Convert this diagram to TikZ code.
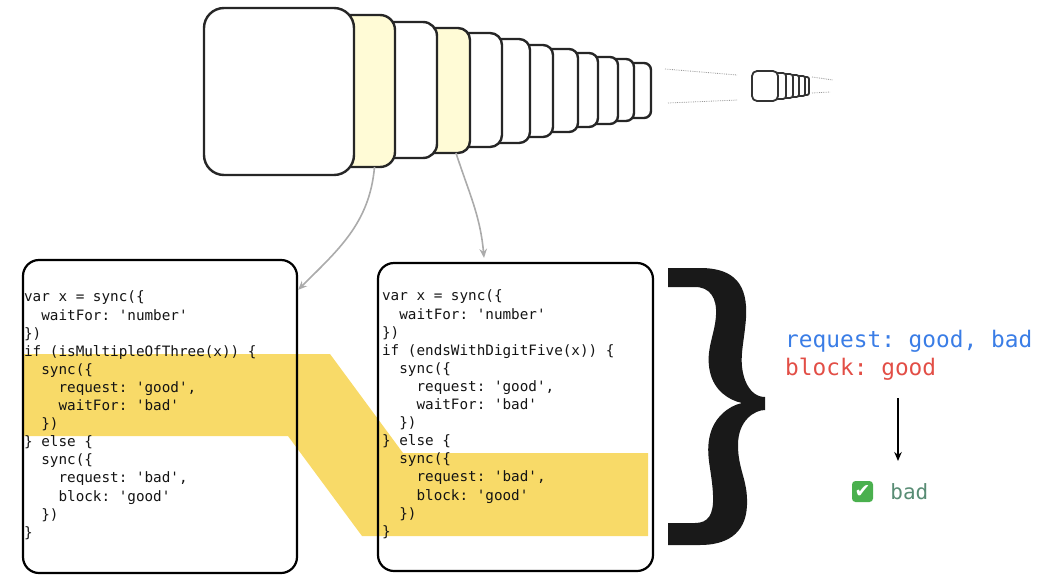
\documentclass[tikz,border=0pt]{standalone}
\usepackage{fontspec}
\setmainfont{DejaVu Sans}
\setmonofont{DejaVu Sans Mono}
\usepackage{tikz}
\usetikzlibrary{arrows.meta,positioning}

\definecolor{paleyellow}{RGB}{255,251,214}
\definecolor{hilite}{RGB}{248,218,104}
\definecolor{reqblue}{RGB}{58,125,230}
\definecolor{blkred}{RGB}{226,78,70}
\definecolor{okgreen}{RGB}{88,140,116}
\definecolor{checkgreen}{RGB}{74,176,78}
\newcommand\codeind{\phantom{xx}}

\begin{document}
\begin{tikzpicture}[x=1pt,y=-1pt,>={Stealth[length=9pt,width=7.5pt]},line join=round]
  \tikzstyle{stackbox}=[rectangle,draw=black!85,line width=2.4pt,inner sep=0pt,outer sep=0pt]
  \tikzstyle{farbox}=[rectangle,draw=black!80,line width=1.8pt,inner sep=0pt,outer sep=0pt]
  \tikzstyle{codebox}=[rectangle,draw=black,line width=2.2pt,rounded corners=16pt,inner sep=0pt]
  \tikzstyle{code}=[inner sep=0pt,align=left,text=black!92,
        font=\ttfamily\fontsize{14.3}{18.1}\selectfont]
  \tikzstyle{result}=[inner sep=0pt,anchor=base west,font=\ttfamily\fontsize{22.8}{28}\selectfont]
  \tikzstyle{feed}=[->,draw=black!33,line width=1.6pt]
  \tikzstyle{perspective}=[draw=black!40,densely dotted,line width=0.8pt]
  \useasboundingbox (0,0) rectangle (1042,584);

  % highlighted path through both programs
  \fill[hilite] (23,354) -- (330,354) -- (403,453) -- (648,453) -- (648,536)
    -- (362,536) -- (288,436) -- (23,436) -- cycle;

  % stack of sync points, back to front
  \foreach \n/\xa/\xb/\ya/\yb/\fc/\rad in {12/622/651/63/118/white/7,
      11/606/634/59/121/white/8, 10/586/618/57/124/white/8, 9/564/598/53/127/white/9,
      8/539/578/49/132/white/9, 7/514/553/45/137/white/10, 6/484/530/39/143/white/11,
      5/450/502/33/147/white/12, 4/417/470/28/153/paleyellow/12, 3/375/437/22/158/white/14,
      2/334/395/15/167/paleyellow/15, 1/204/354/8/175/white/20}
    \node[stackbox,fill=\fc,rounded corners=\rad pt,minimum width=\xb-\xa,
      minimum height=\yb-\ya] (s\n) at ({(\xa+\xb)/2},{(\ya+\yb)/2}) {};

  % far away part of the stack
  \foreach \n/\xa/\xb/\ya/\yb/\rad in {5/799/809/77/95/2, 4/794/805/76/96/2,
      3/788/799/75/97/2.5, 2/782/793/74/98/3, 1/775/786/73/99/3, 0/752/778/71/101/5}
    \node[farbox,fill=white,rounded corners=\rad pt,minimum width=\xb-\xa,
      minimum height=\yb-\ya] (f\n) at ({(\xa+\xb)/2},{(\ya+\yb)/2}) {};
  \draw[perspective] (665,69) -- (737,75);
  \draw[perspective] (668,103) -- (738,100);
  \draw[perspective] (812,77) -- (833,80);
  \draw[perspective] (812,93) -- (830,92);

  % the two programs
  \node[codebox,minimum width=274,minimum height=313] (lbox) at (160,416.5) {};
  \node[codebox,minimum width=275,minimum height=308] (rbox) at (515.5,417) {};
  \node[code,anchor=north west] (lcode) at ([xshift=2pt,yshift=-32pt]lbox.north west)
    {var x = sync(\{\\
     \codeind waitFor: 'number'\\
     \})\\
     if (isMultipleOfThree(x)) \{\\
     \codeind sync(\{\\
     \codeind\codeind request: 'good',\\
     \codeind\codeind waitFor: 'bad'\\
     \codeind \})\\
     \} else \{\\
     \codeind sync(\{\\
     \codeind\codeind request: 'bad',\\
     \codeind\codeind block: 'good'\\
     \codeind \})\\
     \}};
  \node[code,anchor=north west] (rcode) at ([xshift=5pt,yshift=-28pt]rbox.north west)
    {var x = sync(\{\\
     \codeind waitFor: 'number'\\
     \})\\
     if (endsWithDigitFive(x)) \{\\
     \codeind sync(\{\\
     \codeind\codeind request: 'good',\\
     \codeind\codeind waitFor: 'bad'\\
     \codeind \})\\
     \} else \{\\
     \codeind sync(\{\\
     \codeind\codeind request: 'bad',\\
     \codeind\codeind block: 'good'\\
     \codeind \})\\
     \}};
  \draw[feed] ([xshift=10pt]s2.south) to[out=-95,in=45] ([yshift=-31pt]lbox.north east);
  \draw[feed] ([xshift=12.5pt]s4.south) to[out=-72,in=95] ([xshift=-31.5pt,yshift=4pt]rbox.north);

  % brace
  \fill[black!90] (668,268) -- (700,268) .. controls (735,268) and (748,285) .. (746,318)
    .. controls (744,345) and (738,360) .. (745,380)
    .. controls (750,393) and (758,397) .. (765,397) -- (765,410)
    .. controls (755,410) and (738,420) .. (738,445)
    .. controls (738,470) and (748,480) .. (747,505)
    .. controls (746,535) and (725,545) .. (700,545)
    -- (668,545) -- (668,523) -- (695,523)
    .. controls (708,523) and (714,515) .. (713,495)
    .. controls (712,470) and (705,455) .. (710,435)
    .. controls (714,418) and (728,406) .. (742,403)
    .. controls (728,400) and (714,390) .. (710,372)
    .. controls (705,350) and (715,335) .. (716,315)
    .. controls (717,298) and (710,287) .. (695,287)
    -- (668,287) -- cycle;

  % outcome
  \node[result,text=reqblue] (req) at (785,347) {request: good, bad};
  \node[result,text=blkred] (blk) at ([yshift=-28pt]req.base west) {block: good};
  \coordinate (pick) at (898,398);
  \coordinate (picked) at (898,461);
  \draw[->,line width=1.4pt] (pick) -- (picked);
  \node[fill=checkgreen,rounded corners=3.5pt,minimum size=21pt,inner sep=0pt,
    text=white,font=\bfseries\fontsize{19}{19}\selectfont] (tick) at (862.5,491.5) {✔};
  \node[right=17pt of tick,inner sep=0pt,text=okgreen,
    font=\ttfamily\fontsize{21}{21}\selectfont] (okbad) {bad};
\end{tikzpicture}
\end{document}
